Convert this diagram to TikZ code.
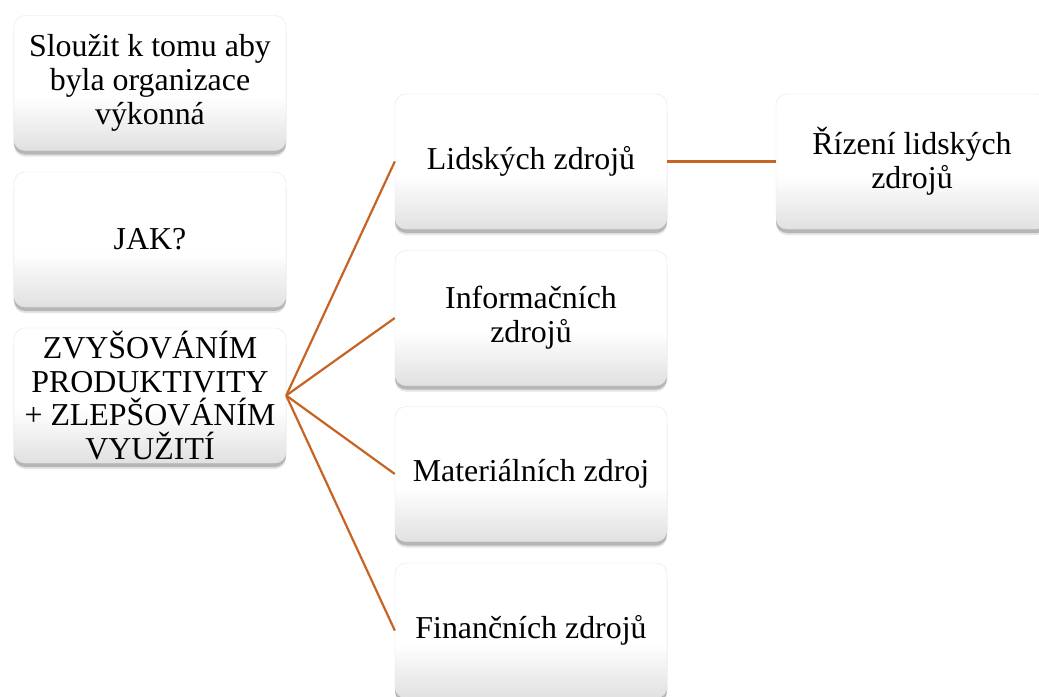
\documentclass[tikz,border=0pt]{standalone}
\usepackage{fontspec}
\setmainfont{Liberation Serif}
\usetikzlibrary{shadows}
\definecolor{linkc}{RGB}{200,100,35}
\pgfdeclareverticalshading{boxshade}{100bp}{color(0bp)=(black!12); color(25bp)=(black!12); color(45bp)=(white); color(100bp)=(white)}
\tikzset{
  card/.style={rectangle, rounded corners=11bp, minimum width=272bp, minimum height=135bp,
    align=center, inner sep=0pt,
    shading=boxshade, draw=black!10, line width=0.4bp,
    drop shadow={shadow xshift=0bp, shadow yshift=-6bp, opacity=0.15, fill=black!70},
    drop shadow={shadow xshift=0bp, shadow yshift=-4bp, opacity=0.3, fill=black!70},
    font=\fontsize{32}{34}\selectfont},
  link/.style={draw=linkc, line width=2.2bp}
}
\begin{document}
\begin{tikzpicture}[x=1bp,y=-1bp]
\useasboundingbox[fill=white] (0,0) rectangle (1039,697);
\node[card] (a) at (150,83) {Sloužit k tomu aby\\byla organizace\\výkonná};
\node[card] (b) at (150,239.5) {JAK?};
\node[card] (c) at (150,395.5) {ZVYŠOVÁNÍM\\PRODUKTIVITY\\+ ZLEPŠOVÁNÍM\\VYUŽITÍ};
\node[card] (d) at (531,161.5) {Lidských zdrojů};
\node[card] (e) at (531,318) {Informačních\\zdrojů};
\node[card] (f) at (531,474) {Materiálních zdroj};
\node[card] (g) at (531,630.5) {Finančních zdrojů};
\node[card] (h) at (912,161.5) {Řízení lidských\\zdrojů};
\draw[link] (c.east) -- (d.west);
\draw[link] (c.east) -- (e.west);
\draw[link] (c.east) -- (f.west);
\draw[link] (c.east) -- (g.west);
\draw[link] (d.east) -- (h.west);
\end{tikzpicture}
\end{document}
